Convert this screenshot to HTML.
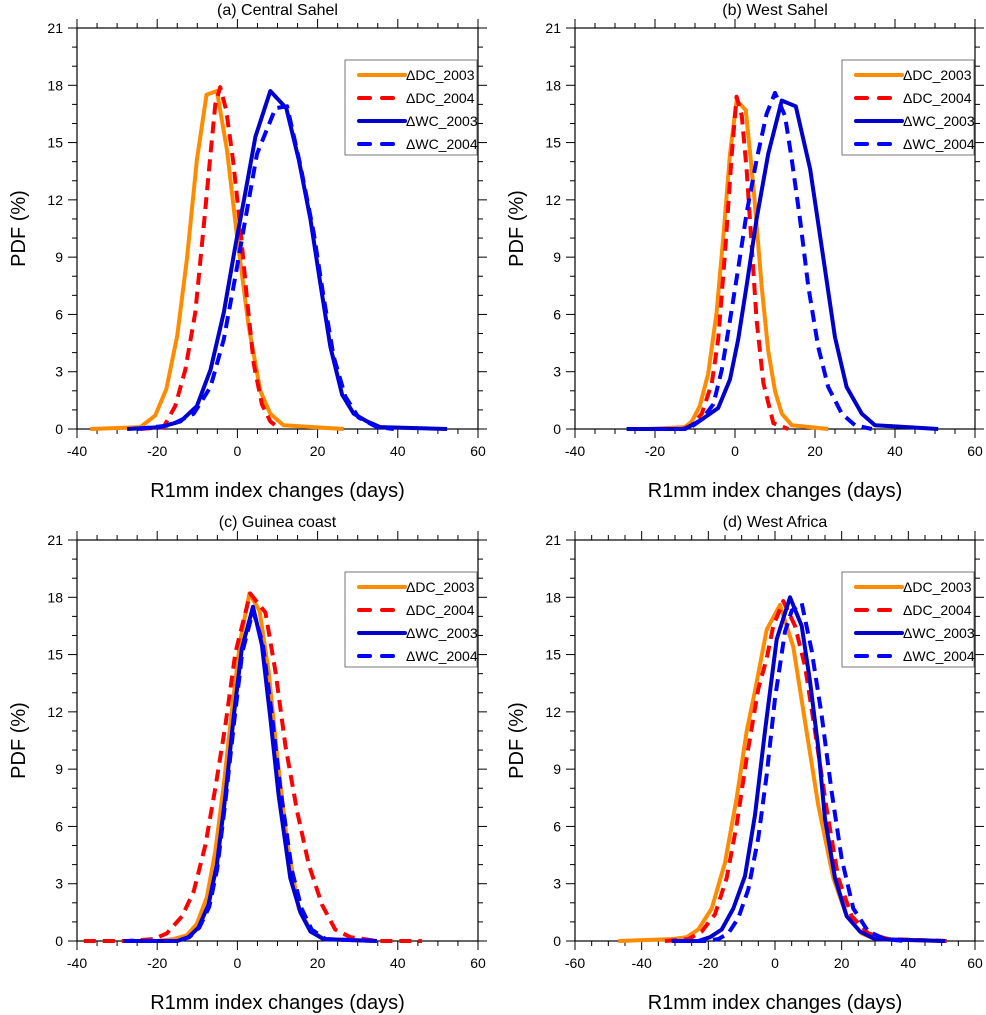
<!DOCTYPE html>
<html><head><meta charset="utf-8"><style>
body{margin:0;background:#fff;}
svg{display:block;font-family:"Liberation Sans",Arial,sans-serif;}
</style></head><body>
<svg id="c" width="986" height="1015" viewBox="0 0 986 1015" xmlns="http://www.w3.org/2000/svg"></svg>
<script>
// ---- data ----
const panelTitles = ["(a) Central Sahel","(b) West Sahel","(c) Guinea coast","(d) West Africa"];
const seriesNames = ["ΔDC_2003","ΔDC_2004","ΔWC_2003","ΔWC_2004"];
const yTicks = [0,3,6,9,12,15,18,21];
const xTicksA = [-40,-20,0,20,40,60];
const xTicksD = [-60,-40,-20,0,20,40,60];
// panel a
const aDC03x=[-36.7,-24.2,-20.5,-17.7,-15,-12.6,-10.1,-7.7,-5.1,-2.6,-0.1,2.8,5.7,8.2,11.5,26.5];
const aDC03y=[0,0.1,0.7,2.1,4.9,8.9,14.1,17.5,17.7,14.6,10.1,5.4,2.0,0.8,0.2,0];
const aDC04x=[-24.2,-18.4,-15.5,-13,-10.5,-8.4,-6.7,-5.5,-4.3,-2.8,-1.1,0.7,2.4,4.1,6.1,8.2,10.7];
const aDC04y=[0,0.1,1.2,3.1,6.1,10.6,14.4,17.0,17.9,16.7,14.1,10.6,6.8,3.4,1.3,0.4,0];
const aWC03x=[-27.5,-19.2,-14.2,-10.1,-6.7,-3.4,-0.5,2,4.5,8.2,12.2,15.3,18.2,20.7,23.2,26.1,29,32.3,35.6,52.3];
const aWC03y=[0,0.1,0.4,1.2,3.1,6.1,9.6,12.4,15.3,17.7,16.8,14.1,11.0,7.6,4.3,1.8,0.8,0.4,0.1,0];
const aWC04x=[-25,-16.7,-10.9,-6.7,-3.4,-0.5,2,4.9,9.5,12.4,15.7,19,21.5,24,26.9,30.2,34.8,39];
const aWC04y=[0,0.2,0.8,2.2,4.7,8.0,11,14.4,16.8,16.9,13.8,10.3,6.9,3.8,1.7,0.6,0.1,0];
// panel b
const bDC03x=[-22.1,-12.5,-10.8,-8.8,-6.7,-4.6,-2.9,-1.25,0.4,2.7,4.6,6.7,8.3,10,11.7,14.2,23.3];
const bDC03y=[0,0.1,0.4,1.2,2.9,6.1,10.1,14.4,17.2,16.7,12.7,7.4,4.1,2.0,0.8,0.2,0];
const bDC04x=[-22.5,-13.3,-10.8,-8.3,-5.8,-4.2,-2.5,-0.8,0.4,1.7,2.9,4.2,5.4,7.1,9.6,13.3];
const bDC04y=[0,0,0.2,0.8,2.4,4.7,9.2,14.4,17.4,16.4,13.6,9.5,5.7,2.4,0.3,0];
const bWC03x=[-27.1,-12.5,-8.3,-4.2,-1.25,0.8,2.9,5.4,8.3,11.7,15.2,18.8,21.7,25,27.9,31.7,35,50.8];
const bWC03y=[0,0,0.5,1.1,2.6,4.7,7.5,11,14.4,17.2,16.9,13.6,9.5,4.8,2.2,0.8,0.2,0];
const bWC04x=[-20,-11.7,-8.3,-5.4,-3.3,-1.25,0.8,2.9,5.4,7.9,10,12.5,14.2,16.25,18.3,20.8,23.3,26.7,30,34.2];
const bWC04y=[0,0,0.5,1.3,3.1,5.7,8.4,11.3,14.1,16.5,17.6,16.4,14.1,11,7.5,4.3,2.2,0.8,0.2,0];
// panel c
const cDC03x=[-28.4,-20,-15.9,-12.6,-10.1,-7.6,-5.5,-3.4,-1.3,0.7,3,5.5,7.8,9.9,12.4,15.3,18.2,21.5,34.8];
const cDC03y=[0,0,0.1,0.3,0.9,2.3,4.7,8.2,12.2,15.7,18.2,17.3,14.1,9.7,5.2,1.7,0.6,0.1,0];
const cDC04x=[-38.3,-27.5,-20.9,-17.6,-13.8,-10.9,-8,-5.5,-3,-0.5,3.2,7,9.5,12,14.9,17.8,21.1,24.4,28.2,34.8,46];
const cDC04y=[0,0,0.1,0.4,1.3,2.6,5.0,8.0,11.3,15.1,18.2,17.2,14.1,10.2,6.8,4.0,1.9,0.6,0.2,0,0];
const cWC03x=[-28.4,-15,-12.2,-9.7,-7.2,-5.1,-3,-0.9,1.1,3.9,6.1,8.2,10.3,13.2,15.7,18.2,21.5,34.8];
const cWC03y=[0,0,0.2,0.7,1.9,4.0,7.6,11.8,15.3,17.5,15.5,11.7,7.6,3.3,1.5,0.5,0.1,0];
const cWC04x=[-28,-15,-12,-9.5,-7,-5,-3,-0.8,1.2,3.9,6.3,8.5,10.7,13.6,16,18.5,22,35];
const cWC04y=[0,0,0.2,0.7,1.8,3.8,7.3,11.5,15.1,17.3,15.6,12.0,8.0,3.7,1.7,0.6,0.1,0];
// panel d
const dDC03x=[-47,-31,-26.5,-23,-19,-15,-11.5,-8.5,-6,-2.5,1.5,5.5,9,13,17.5,21.5,26,30,51];
const dDC03y=[0,0.1,0.2,0.6,1.7,4.1,7.5,11,13.1,16.3,17.6,15.4,11.5,7.1,3.3,1.3,0.4,0.1,0];
const dDC04x=[-33,-26,-22,-18,-14.5,-11.5,-8.5,-5,-2.5,-0.5,2.5,6,9,12,15.5,19,23,28,34,51.5];
const dDC04y=[0,0.1,0.5,1.4,3.3,6.1,9.6,13.2,14.8,16.5,17.8,16.5,14.4,11,6.9,3.3,1.3,0.4,0.1,0];
const dWC03x=[-31,-23,-19.5,-16,-12.5,-9,-6,-3,0.5,4.5,8,10.5,13,15,18,21.5,25.5,30,51];
const dWC03y=[0,0,0.2,0.6,1.7,3.4,6.6,11,15.8,18.0,16.5,13.6,10.1,6.4,3.3,1.3,0.5,0.1,0];
const dWC04x=[-30,-21,-17,-14,-11,-8,-5,-2.5,0,3,5,8,11,14,17,20,23.5,28,33,39];
const dWC04y=[0,0,0.1,0.4,1.2,2.7,5.4,8.7,12.7,16.2,17.3,17.7,15.2,11.8,7.8,4.3,1.7,0.5,0.1,0];

const panels=[
 {l:77,r:478,t:28,b:429,xmin:-40,xmax:60,xt:xTicksA,s:[[aDC03x,aDC03y],[aDC04x,aDC04y],[aWC03x,aWC03y],[aWC04x,aWC04y]],key:"a"},
 {l:575,r:975,t:28,b:429,xmin:-40,xmax:60,xt:xTicksA,s:[[bDC03x,bDC03y],[bDC04x,bDC04y],[bWC03x,bWC03y],[bWC04x,bWC04y]],key:"b"},
 {l:77,r:478,t:540,b:941,xmin:-40,xmax:60,xt:xTicksA,s:[[cDC03x,cDC03y],[cDC04x,cDC04y],[cWC03x,cWC03y],[cWC04x,cWC04y]],key:"c"},
 {l:575,r:975,t:540,b:941,xmin:-60,xmax:60,xt:xTicksD,s:[[dDC03x,dDC03y],[dDC04x,dDC04y],[dWC03x,dWC03y],[dWC04x,dWC04y]],key:"d"}
];
const colors=["#FF8C00","#FF0000","#0000CD","#0000FF"];
const dashes=[null,"12,7",null,"12,7"];
const NS="http://www.w3.org/2000/svg";
const svg=document.getElementById("c");
function mk(tag,attrs,parent){const e=document.createElementNS(NS,tag);for(const k in attrs)e.setAttribute(k,attrs[k]);(parent||svg).appendChild(e);return e;}

panels.forEach((p,pi)=>{
 const g=mk("g",{});
 
 
 const X=v=>p.l+(v-p.xmin)/(p.xmax-p.xmin)*(p.r-p.l);
 const Y=v=>p.b-v/21*(p.b-p.t);
 const cx=(p.l+p.r)/2;
 const t=mk("text",{x:cx,y:p.t-13,"text-anchor":"middle","font-size":"16"},g);t.textContent=panelTitles[pi];
 
 
 const fr=mk("rect",{x:p.l,y:p.t,width:p.r-p.l,height:p.b-p.t,fill:"none",stroke:"#000","stroke-width":"1.2"},g);
 
 
 for(let v=0;v<=21;v++){
  const major=v%3===0;const L=major?9:5;const y=Y(v);
  mk("line",{x1:p.l-L,x2:p.l,y1:y,y2:y,stroke:"#000","stroke-width":"1"},g);
  mk("line",{x1:p.r,x2:p.r+L,y1:y,y2:y,stroke:"#000","stroke-width":"1"},g);
 }
 yTicks.forEach(v=>{const tl=mk("text",{x:p.l-14,y:Y(v)+5,"text-anchor":"end","font-size":"14"},g);tl.textContent=v;
  
  });
 for(let v=p.xmin;v<=p.xmax;v+=5){
  const major=v%20===0;const L=major?9:5;const x=X(v);
  mk("line",{x1:x,x2:x,y1:p.b,y2:p.b+L,stroke:"#000","stroke-width":"1"},g);
  mk("line",{x1:x,x2:x,y1:p.t-L,y2:p.t,stroke:"#000","stroke-width":"1"},g);
 }
 p.xt.forEach(v=>{const tl=mk("text",{x:X(v),y:p.b+27,"text-anchor":"middle","font-size":"14"},g);tl.textContent=v;
  
  });
 const xl=mk("text",{x:cx,y:p.b+68,"text-anchor":"middle","font-size":"20"},g);xl.textContent="R1mm index changes (days)";
 
 
 const yl=mk("text",{x:0,y:0,"text-anchor":"middle","font-size":"20",transform:`translate(${p.l-52},${(p.t+p.b)/2}) rotate(-90)`},g);yl.textContent="PDF (%)";
 
 
 p.s.forEach((s,si)=>{
  const pts=s[0].map((xv,i)=>X(xv).toFixed(1)+","+Y(s[1][i]).toFixed(1)).join(" ");
  const a={points:pts,fill:"none",stroke:colors[si],"stroke-width":"4","stroke-linejoin":"round"};
  if(dashes[si])a["stroke-dasharray"]=dashes[si];
  const pl=mk("polyline",a,g);
  
  
 });
 const lg=mk("g",{},g);
 
 
 const lx=p.r-133;
 mk("rect",{x:lx,y:p.t+32,width:132,height:95,fill:"#fff",stroke:"#555","stroke-width":"0.8"},lg);
 seriesNames.forEach((n,si)=>{
  const y=p.t+47+si*23;
  const ea={x1:lx+14,x2:lx+60,y1:y,y2:y,stroke:colors[si],"stroke-width":"4","stroke-linecap":"round"};
  if(dashes[si])ea["stroke-dasharray"]="11,12";
  const ln=mk("line",ea,lg);
  
  
  const tx=mk("text",{x:lx+61,y:y+5,"font-size":"14"},lg);tx.textContent=n;
  
  
 });
});
</script>
</body></html>
